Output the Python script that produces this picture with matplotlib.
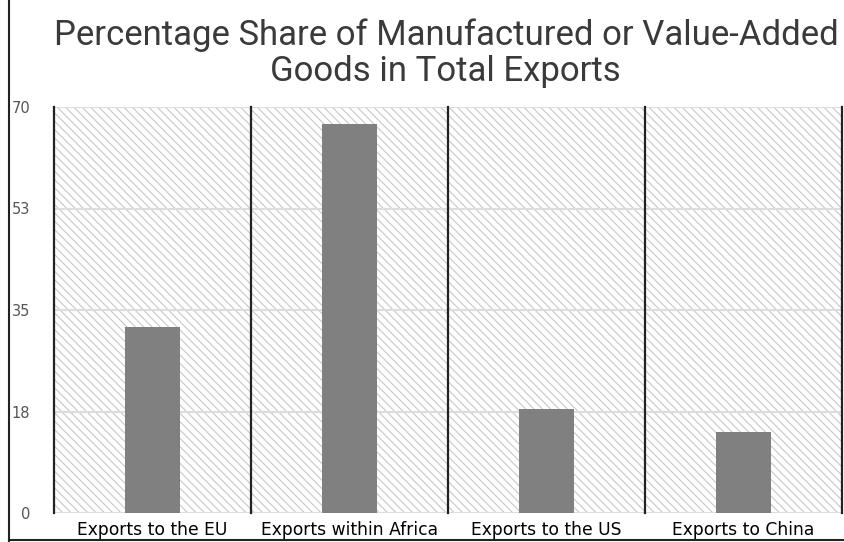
import matplotlib.pyplot as plt
from matplotlib.patches import Rectangle
from matplotlib.lines import Line2D

categories = ['Exports to the EU', 'Exports within Africa', 'Exports to the US', 'Exports to China']
shares = [32, 67, 18, 14]
y_ticks = [0, 17.5, 35, 52.5, 70]
y_tick_labels = ['0', '18', '35', '53', '70']

W, H = 845, 542
fig = plt.figure(figsize=(W / 100, H / 100), dpi=100)

# outer frame: left and bottom edges
fig.add_artist(Line2D([9 / W, 9 / W], [0, 1], color='#222222', lw=1.5))
fig.add_artist(Line2D([9 / W, 1], [2 / H, 2 / H], color='#222222', lw=1.5))

title_font = dict(ha='center', va='center', fontsize=25, family='Roboto',
                  fontweight='normal', color='#3a3a3a')
fig.text(446 / W, 1 - 35 / H, 'Percentage Share of Manufactured or Value-Added', **title_font)
fig.text(445 / W, 1 - 72 / H, 'Goods in Total Exports', **title_font)

left, right, top, bottom = 54, 842, 107, 513
ax = fig.add_axes([left / W, 1 - bottom / H, (right - left) / W, (bottom - top) / H])
ax.set_xlim(0, len(categories))
ax.set_ylim(0, 70)

plt.rcParams['hatch.linewidth'] = 0.8
plt.rcParams['hatch.color'] = '#c8c8c8'
ax.add_patch(Rectangle((0, 0), len(categories), 70, facecolor='white',
                       edgecolor='#c8c8c8', hatch='\\\\\\\\', lw=0, zorder=0))

for t in y_ticks:
    ax.axhline(t, color='#dddddd', lw=1.5, zorder=1)

x = [i + 0.5 for i in range(len(categories))]
ax.bar(x, shares, width=0.28, color='#808080', zorder=2)

for i in range(len(categories) + 1):
    ax.axvline(i, color='#222222', lw=1.6, zorder=3, clip_on=False)

for s in ax.spines.values():
    s.set_visible(False)

ax.set_yticks(y_ticks)
ax.set_yticklabels(y_tick_labels, color='#555555', fontsize=10.5, family=['DejaVu Sans'])
ax.tick_params(axis='y', length=0, pad=17)

ax.set_xticks(x)
ax.set_xticklabels(categories, fontsize=12.3, family=['DejaVu Sans'], color='#000000')
ax.tick_params(axis='x', length=0, pad=5.5)

fig.savefig('out.png', dpi=100)
